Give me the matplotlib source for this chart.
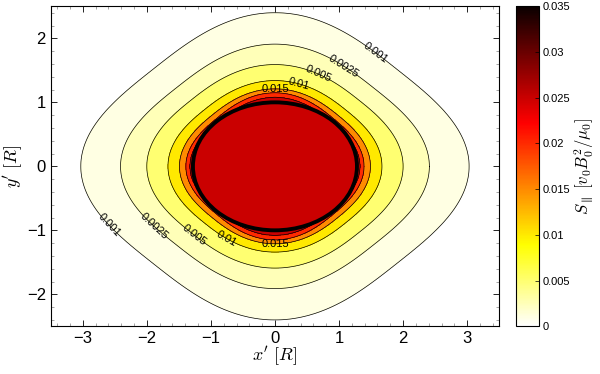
import numpy as np
import matplotlib
matplotlib.use("Agg")
import matplotlib.pyplot as plt
from matplotlib.patches import Ellipse
from matplotlib.ticker import MultipleLocator

plt.rcParams['font.family'] = ['Liberation Sans', 'DejaVu Sans']
plt.rcParams['mathtext.fontset'] = 'cm'

# contour levels of S_parallel and their shapes
niveis = [0.001, 0.0025, 0.005, 0.01, 0.015, 0.02, 0.025]
extensao_x = [3.03, 2.41, 2.00, 1.67, 1.49, 1.39, 1.33]
extensao_y = [2.40, 1.91, 1.59, 1.34, 1.21, 1.15, 1.08]
quadratura = [3.0, 2.8, 2.6, 2.5, 2.5, 2.6, 2.6]
rotulos = ['0.001', '0.0025', '0.005', '0.01', '0.015']
pos_rotulos = [(1.57, 1.77), (1.05, 1.53), (0.66, 1.40), (0.37, 1.27), (0.0, 1.22),
               (-2.59, -0.92), (-1.86, -0.92), (-1.26, -1.07), (-0.74, -1.10), (0.0, -1.23)]
# conductor cross-section (ellipse semi-axes)
semi_eixos = (1.28, 1.0)
vmax = 0.035

# build the field from the nested contour shapes (diamonds with rounded corners)
xs = np.linspace(-3.5, 3.5, 701)
ys = np.linspace(-2.5, 2.5, 501)
X, Y = np.meshgrid(xs, ys)
t = []
for a, b, q in zip(extensao_x, extensao_y, quadratura):
    u = X / a + Y / b
    v = X / a - Y / b
    s = ((np.abs(u) ** q + np.abs(v) ** q) / 2) ** (1 / q)
    t.append(np.log(np.maximum(s, 1e-9)))
t = np.array(t)
logL = np.log(niveis)
campo = np.zeros_like(X)
fora = t[0] >= 0
campo[fora] = niveis[0] * np.exp(-3 * t[0][fora])
for k in range(len(niveis) - 1):
    m = (t[k] < 0) & (t[k + 1] >= 0)
    w = -t[k][m] / (t[k + 1][m] - t[k][m])
    campo[m] = np.exp(logL[k] + w * (logL[k + 1] - logL[k]))
dentro = t[-1] < 0
campo[dentro] = niveis[-1] * np.exp(-1 * t[-1][dentro])

cmap = plt.get_cmap('hot_r')
limites = [0] + niveis + [vmax]
cores = [cmap(v / vmax) for v in limites[:-1]]

fig = plt.figure(figsize=(6, 3.74), dpi=100)
ax = fig.add_axes([0.0845, 0.1275, 0.7475, 0.8555])
ax.contourf(X, Y, campo, levels=limites, colors=cores)
cs = ax.contour(X, Y, campo, levels=niveis, colors='black', linewidths=0.5)

el = Ellipse((0, 0), 2 * semi_eixos[0], 2 * semi_eixos[1],
             facecolor=cmap(niveis[-1] / vmax), edgecolor='black', linewidth=2.8, zorder=3)
ax.add_patch(el)

fmt = {lv: r for lv, r in zip(niveis[:5], rotulos)}
ax.clabel(cs, levels=niveis[:5], fmt=fmt, manual=pos_rotulos, inline=False, fontsize=8)

ax.set_xlim(-3.5, 3.5)
ax.set_ylim(-2.5, 2.5)
ax.xaxis.set_major_locator(MultipleLocator(1))
ax.yaxis.set_major_locator(MultipleLocator(1))
ax.xaxis.set_minor_locator(MultipleLocator(0.2))
ax.yaxis.set_minor_locator(MultipleLocator(0.2))
ax.tick_params(which='both', direction='in', top=True, right=True, labelsize=12)
ax.tick_params(which='major', length=4, width=0.6)
ax.tick_params(which='minor', length=2, width=0.5, color='gray')
ax.set_xlabel(r"$x'\ [R]$", fontsize=13, labelpad=-1)
ax.set_ylabel(r"$y'\ [R]$", fontsize=13, labelpad=1)

cax = fig.add_axes([0.86, 0.1275, 0.039, 0.8555])
sm = plt.cm.ScalarMappable(cmap=cmap, norm=plt.Normalize(0, vmax))
cb = fig.colorbar(sm, cax=cax)
cb.set_ticks(np.arange(0, 0.0351, 0.005))
cb.set_ticklabels(['0', '0.005', '0.01', '0.015', '0.02', '0.025', '0.03', '0.035'])
cb.ax.tick_params(labelsize=8, direction='in', length=3, width=0.5, pad=2)
cb.outline.set_linewidth(0.8)
cb.set_label(r"$S_{\parallel}\ [v_0 B_0^2/\mu_0]$", fontsize=12, labelpad=2)

fig.savefig("out.png", dpi=100)
